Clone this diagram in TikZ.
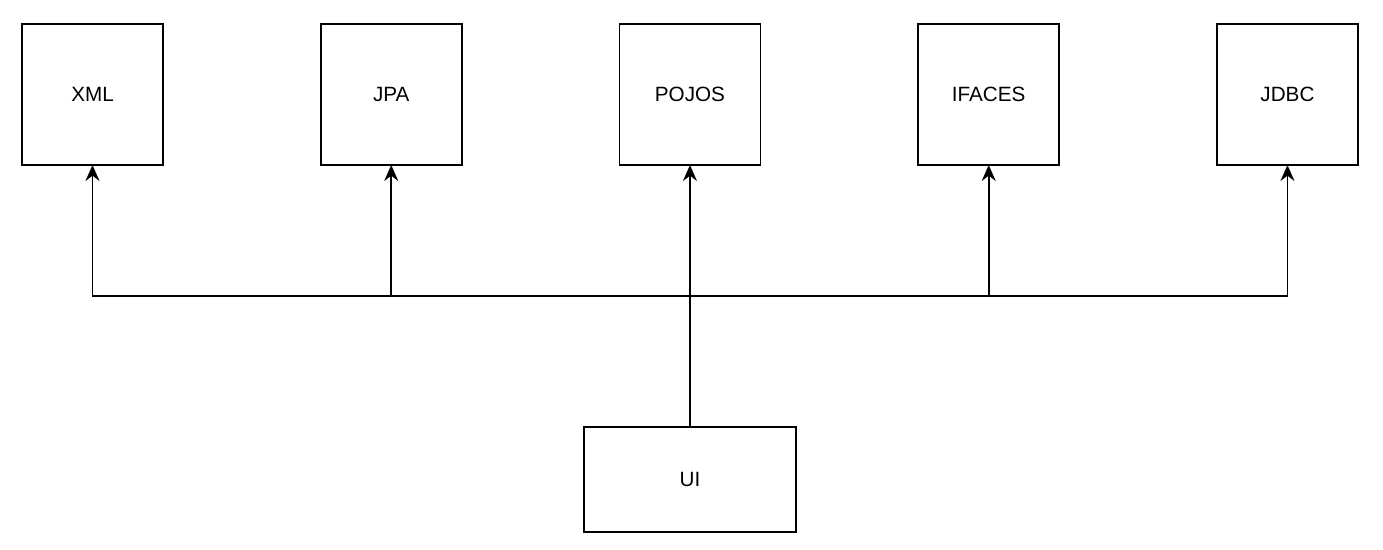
\documentclass[tikz,border=0pt]{standalone}
\usepackage{fontspec}
\setmainfont{Liberation Sans}
\usetikzlibrary{arrows.meta,positioning}
\tikzset{
    block/.style = {draw, rectangle, line width=1.2pt, outer sep=0pt,
        minimum height=105.75pt,
        minimum width=105.75pt, font=\fontsize{15.5pt}{18pt}\selectfont},
    wide/.style = {block, minimum width=159pt, minimum height=78.75pt},
}

\begin{document}
\begin{tikzpicture}[x=0.75pt, y=-0.75pt, node distance=118.3pt,
    >={Stealth[length=12pt,width=10.5pt,inset=4pt]}, line width=1.2pt]
		\useasboundingbox (0,0) rectangle (1383,549);
		% top row
		\node [block] (xml) at (92.5,94.5) {XML};
		\node [block, right=of xml] (jpa) {JPA};
		\node [block, right=of jpa] (pojos) {POJOS};
		\node [block, right=of pojos] (ifaces) {IFACES};
		\node [block, right=of ifaces] (jdbc) {JDBC};
		
		% UI block
		\node [wide, below=196.5pt of pojos] (ui) {UI};
		% branching point
		\coordinate [above=98.25pt of ui.north] (branch);
		
		% connecting lines
		\draw [->] (ui.north) -- (branch) -| (xml.south);
		\draw [->] (ui.north) -- (branch) -| (jpa.south);
		\draw [->] (ui.north) -- (pojos.south);
		\draw [->] (ui.north) -- (branch) -| (ifaces.south);
		\draw [->] (ui.north) -- (branch) -| (jdbc.south);
	\end{tikzpicture}
\end{document}
